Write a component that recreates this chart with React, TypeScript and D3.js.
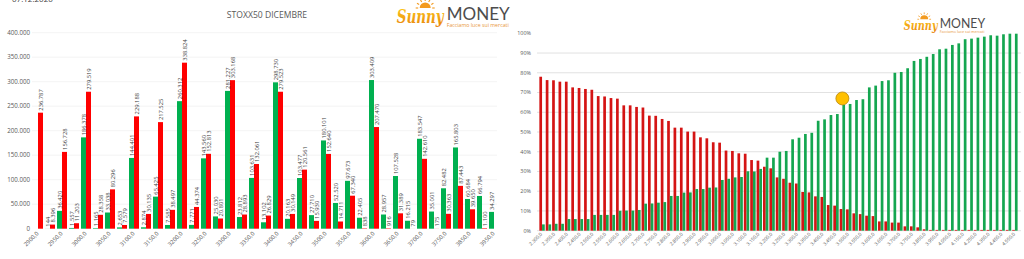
import React from 'react';
import * as d3 from 'd3';

// ---------- LEFT CHART DATA ----------
const leftTitle = 'STOXX50 DICEMBRE';
const leftStrikes = [2900, 2925, 2950, 2975, 3000, 3025, 3050, 3075, 3100, 3125, 3150, 3175, 3200, 3225, 3250, 3275, 3300, 3325, 3350, 3375, 3400, 3425, 3450, 3475, 3500, 3525, 3550, 3575, 3600, 3625, 3650, 3675, 3700, 3725, 3750, 3800, 3850, 3900, 3950];
const leftGreen: (number | null)[] = [null, 144, 36420, 1557, 186378, 1165, 33038, 2653, 144401, 2874, 65425, 7585, 260312, 7771, 143560, 25030, 281227, 23812, 103631, 13102, 298730, 20163, 103477, 27710, 180101, 52520, 97673, 22405, 303409, 28957, 107528, 16215, 183547, 35001, 82482, 165803, 60684, 66794, 34297];
const leftRed: (number | null)[] = [236787, 8396, 156728, 11203, 279519, 28358, 80296, 7579, 229188, 30135, 217525, 38497, 338824, 44374, 152813, 20801, 303168, 28893, 132061, 26829, 279523, 30149, 120561, 15930, 152640, 14711, 67340, 838, 207470, 916, 31389, 79, 142610, 175, 30363, 87443, 39650, 1100, null];
const leftYTicks = [0, 50000, 100000, 150000, 200000, 250000, 300000, 350000, 400000];

// ---------- RIGHT CHART DATA ----------
const rightStrikes = [
  2300, 2325, 2350, 2375, 2400, 2425, 2450, 2475, 2500, 2525,
  2550, 2575, 2600, 2625, 2650, 2675, 2700, 2725, 2750, 2775,
  2800, 2825, 2850, 2875, 2900, 2925, 2950, 2975, 3000, 3025,
  3050, 3075, 3100, 3125, 3150, 3175, 3200, 3225, 3250, 3275,
  3300, 3325, 3350, 3375, 3400, 3425, 3450, 3475, 3500, 3525,
  3550, 3575, 3600, 3625, 3650, 3675, 3700, 3725, 3750,
  3800, 3850, 3900, 3950, 4000, 4050, 4100, 4150, 4200, 4250, 4300, 4350, 4400, 4450, 4500, 4550,
];
const rightRed = [
  78, 76.3, 76.2, 75.5, 75.5, 72.6, 72.3, 71.8, 71.4, 68.2,
  68, 67.2, 66.9, 63.5, 63.5, 62.7, 62.4, 58.3, 58.2, 56.6,
  55.6, 52.2, 52.2, 50.2, 50.2, 47.3, 46.8, 44.8, 44.6, 40.6,
  40.4, 39.2, 39, 35.8, 35.5, 32.4, 31.6, 27, 26.3, 24.3,
  23.9, 19.6, 19.4, 17.4, 17.1, 13, 12.7, 11, 10.8, 8.8,
  8.4, 7.6, 7.4, 4.7, 4.7, 4.1, 4.1, 2.2, 2.2, 1.7,
  0.7, 0.4, 0.4, 0.4, 0.4, 0.4, 0.4, 0.4, 0.4, 0.4,
  0.4, 0.4, 0.4, 0.4, 0.4,
];
const rightGreen = [
  3.2, 3.2, 3.5, 3.5, 5.9, 5.9, 5.9, 5.9, 8, 8,
  8, 8, 10.1, 10.2, 10.2, 10.5, 13.7, 13.8, 14.2, 14.5,
  17.6, 17.6, 19.3, 19.4, 21.1, 21.1, 21.8, 21.9, 25.7, 26.3,
  27, 27.2, 30.1, 30, 31.3, 37, 37, 40, 40.4, 46.3,
  47.1, 49, 49.6, 55.7, 56.4, 58.6, 59.1, 63.7, 64.2, 66.2,
  66.6, 72.6, 73.5, 75.8, 76.2, 80, 80.4, 82.3, 86, 87,
  88.1, 89.5, 91.9, 92.2, 94.1, 94.9, 97, 97.3, 97.8, 98.3,
  99, 98.8, 99.5, 99.8, 99.8,
];
const rightYTicks = [0, 10, 20, 30, 40, 50, 60, 70, 80, 90, 100];
const markerStrike = 3475;
const markerPct = 67;

const dateText = '07.12.2020';

const itLocale = d3.formatLocale({ decimal: ',', thousands: '.', grouping: [3], currency: ['', '€'] });
const fmtInt = itLocale.format(',d');
const fmtStrikeL = itLocale.format('.1f');
const fmtStrikeR = itLocale.format(',.1f');

const FONT = "'Open Sans', 'Noto Sans', sans-serif";

function Logo({ x, y, s }: { x: number; y: number; s: number }) {
  const gid = `sunGrad${Math.round(x)}`;
  return (
    <g transform={`translate(${x},${y}) scale(${s})`}>
      <defs>
        <linearGradient id={gid} x1="0" y1="0" x2="0" y2="1">
          <stop offset="0%" stopColor="#ffd21f" />
          <stop offset="100%" stopColor="#e8830c" />
        </linearGradient>
      </defs>
      {/* sun */}
      <path d="M23,8 A5.5,5.5 0 0 1 34,8 Z" fill="#f39a1e" />
      {d3.range(7).map((k) => {
        const a = Math.PI + (k * Math.PI) / 6;
        return (
          <line key={k} x1={28.5 + 7 * Math.cos(a)} y1={8 + 7 * Math.sin(a)} x2={28.5 + 9.5 * Math.cos(a)} y2={8 + 9.5 * Math.sin(a)} stroke="#f39a1e" strokeWidth={1.1} />
        );
      })}
      <text x={0} y={23} fontFamily="'DejaVu Serif', serif" fontStyle="italic" fontWeight="bold" fontSize={19} fill={`url(#${gid})`} textLength={47} lengthAdjust="spacingAndGlyphs">
        Sunny
      </text>
      <text x={50} y={19.5} fontFamily="'Lato', 'Open Sans', sans-serif" fontSize={18} fill="#4d4d4d" textLength={63} lengthAdjust="spacingAndGlyphs">
        MONEY
      </text>
      <text x={50} y={27} fontFamily={FONT} fontSize={5.2} fill="#e8963c" textLength={62} lengthAdjust="spacingAndGlyphs">
        Facciamo luce sui mercati
      </text>
    </g>
  );
}

export default function App() {
  // ----- left scales -----
  const lIdx = leftStrikes.map((_, i) => i);
  const lx0 = d3.scaleBand<number>().domain(lIdx).range([32, 500]);
  const lx1 = d3.scaleBand<string>().domain(['green', 'red']).range([1, 11]);
  const ly = d3.scaleLinear().domain([0, 400000]).range([228.7, 32.7]);

  // ----- right scales -----
  const rIdx = rightStrikes.map((_, i) => i);
  const rx0 = d3.scaleBand<number>().domain(rIdx).range([538.85, 1018.1]);
  const rx1 = d3.scaleBand<string>().domain(['red', 'green']).range([0.5, 5.9]);
  const ry = d3.scaleLinear().domain([0, 100]).range([230.7, 33.3]);

  const lGreenC = '#00b050';
  const lRedC = '#ff0000';
  const rGreenC = '#14a650';
  const rRedC = '#d41414';

  const markerIdx = rightStrikes.indexOf(markerStrike);

  return (
    <svg width={1024} height={259} style={{ position: 'absolute', left: 0, top: 0, background: '#fff' }} fontFamily={FONT}>
      <rect x={0} y={0} width={1024} height={259} fill="#fff" />
      <text x={12} y={2} fontSize={8} fill="#404040">{dateText}</text>

      {/* ===== LEFT CHART ===== */}
      <text x={267} y={18} fontSize={8.6} fill="#595959" textAnchor="middle">{leftTitle}</text>
      {leftYTicks.map((t) => (
        <g key={t}>
          {t > 0 && <line x1={32} x2={497} y1={ly(t)} y2={ly(t)} stroke="#f0f0f0" strokeWidth={0.8} />}
          <text x={30} y={ly(t)} dy="0.35em" fontSize={6.2} fill="#595959" textAnchor="end">{fmtInt(t)}</text>
        </g>
      ))}
      {lIdx.map((i) => {
        const g = leftGreen[i];
        const r = leftRed[i];
        const bx = lx0(i)!;
        return (
          <g key={i}>
            {g != null && (
              <rect x={bx + lx1('green')!} y={ly(g)} width={lx1.bandwidth()} height={ly(0) - ly(g)} fill={lGreenC} />
            )}
            {r != null && (
              <rect x={bx + lx1('red')!} y={ly(r)} width={lx1.bandwidth()} height={ly(0) - ly(r)} fill={lRedC} />
            )}
          </g>
        );
      })}
      {lIdx.map((i) => {
        const g = leftGreen[i];
        const r = leftRed[i];
        const bx = lx0(i)!;
        const bw = lx1.bandwidth();
        return (
          <g key={'l' + i} fontSize={5.8} fill="#404040">
            {g != null && (
              <text transform={`translate(${bx + lx1('green')! + bw / 2},${ly(g) - 2}) rotate(-90)`} dy="0.35em">{fmtInt(g)}</text>
            )}
            {r != null && (
              <text transform={`translate(${bx + lx1('red')! + bw / 2},${ly(r) - 2}) rotate(-90)`} dy="0.35em">{fmtInt(r)}</text>
            )}
          </g>
        );
      })}
      {lIdx.filter((i) => i % 2 === 0).map((i) => (
        <text key={'lx' + i} transform={`translate(${lx0(i)! + lx0.bandwidth() / 2 + 1},${234}) rotate(-45)`} fontSize={5.8} fill="#595959" textAnchor="end">
          {fmtStrikeL(leftStrikes[i])}
        </text>
      ))}

      <Logo x={396.7} y={0} s={1} />

      {/* ===== RIGHT CHART ===== */}
      {rightYTicks.map((t) => (
        <g key={'ry' + t}>
          {t < 100 && <line x1={537} x2={1021} y1={ry(t)} y2={ry(t)} stroke="#d9d9d9" strokeWidth={0.8} />}
          <text x={531} y={ry(t)} dy="0.35em" fontSize={5.4} fill="#595959" textAnchor="end">{t}%</text>
        </g>
      ))}
      {rIdx.map((i) => {
        const bx = rx0(i)!;
        const bw = rx1.bandwidth();
        return (
          <g key={'rb' + i}>
            <rect x={bx + rx1('red')!} y={ry(rightRed[i])} width={bw} height={ry(0) - ry(rightRed[i])} fill={rRedC} />
            <rect x={bx + rx1('green')!} y={ry(rightGreen[i])} width={bw} height={ry(0) - ry(rightGreen[i])} fill={rGreenC} />
          </g>
        );
      })}
      {rIdx.filter((i) => i % 2 === 0).map((i) => (
        <text key={'rx' + i} transform={`translate(${rx0(i)! + rx0.bandwidth() / 2 + 0.5},${234.5}) rotate(-45)`} fontSize={4.8} fill="#595959" textAnchor="end">
          {fmtStrikeR(rightStrikes[i])}
        </text>
      ))}
      <circle cx={rx0(markerIdx)! + rx0.bandwidth() / 2} cy={ry(markerPct)} r={6.5} fill="#ffc000" stroke="#b8860b" strokeWidth={0.8} />

      <Logo x={903.7} y={13.5} s={0.72} />
    </svg>
  );
}
